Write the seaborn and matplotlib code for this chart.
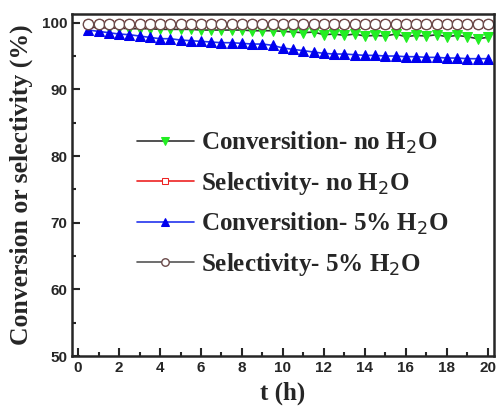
import numpy as np
import pandas as pd
import seaborn as sns
import matplotlib
matplotlib.use('Agg')
import matplotlib.pyplot as plt

# time on stream (h)
t_hours = [0.5, 1.0, 1.5, 2.0, 2.5, 3.0, 3.5, 4.0, 4.5, 5.0,
           5.5, 6.0, 6.5, 7.0, 7.5, 8.0, 8.5, 9.0, 9.5, 10.0,
           10.5, 11.0, 11.5, 12.0, 12.5, 13.0, 13.5, 14.0, 14.5, 15.0,
           15.5, 16.0, 16.5, 17.0, 17.5, 18.0, 18.5, 19.0, 19.5, 20.0]

conv_no_h2o = [99.3, 99.3, 99.2, 99.2, 99.1, 99.1, 99.1, 99.0, 99.0, 99.0,
               99.0, 98.9, 98.9, 98.9, 98.9, 98.9, 98.8, 98.8, 98.8, 98.7,
               98.6, 98.5, 98.6, 98.2, 98.3, 98.1, 98.3, 98.0, 98.1, 98.0,
               98.3, 97.9, 98.1, 98.0, 98.2, 97.9, 98.1, 97.9, 97.6, 97.8]

sel_no_h2o = [99.8] * 40

conv_5_h2o = [98.9, 98.7, 98.5, 98.3, 98.2, 98.0, 97.8, 97.6, 97.6, 97.4,
              97.3, 97.2, 97.1, 97.0, 97.0, 96.9, 96.8, 96.8, 96.6, 96.2,
              96.0, 95.8, 95.6, 95.4, 95.3, 95.3, 95.2, 95.1, 95.1, 95.0,
              95.0, 94.9, 94.9, 94.8, 94.8, 94.7, 94.7, 94.6, 94.6, 94.6]

sel_5_h2o = [99.8] * 40

df = pd.DataFrame({'t': t_hours, 'conv_no': conv_no_h2o, 'sel_no': sel_no_h2o,
                   'conv_5': conv_5_h2o, 'sel_5': sel_5_h2o})

sns.set_style('ticks')
plt.rcParams['font.family'] = ['Liberation Sans', 'DejaVu Sans']

fig = plt.figure(figsize=(4.96, 4.13), dpi=100)
ax = fig.add_axes([0.145, 0.138, 0.851, 0.828])

sns.lineplot(data=df, x='t', y='conv_no', ax=ax, color='#333333', lw=1.2,
             marker='v', ms=7.5, mfc='#22ee22', mec='#22ee22',
             label='Conversition- no H$_2$O')
sns.lineplot(data=df, x='t', y='sel_no', ax=ax, color='#ee2222', lw=1.2,
             marker='s', ms=6, mfc='white', mec='#ee2222',
             label='Selectivity- no H$_2$O')
sns.lineplot(data=df, x='t', y='conv_5', ax=ax, color='#2233ee', lw=1.2,
             marker='^', ms=7.5, mfc='#0000ee', mec='#0000ee',
             label='Conversition- 5% H$_2$O')
sns.lineplot(data=df, x='t', y='sel_5', ax=ax, color='#555555', lw=1.2,
             marker='o', ms=7.5, mfc='white', mec='#6a4a4a', mew=1.0,
             label='Selectivity- 5% H$_2$O')

ax.set_xlim(-0.3, 20.3)
ax.set_ylim(50, 101.3)
ax.set_xticks(np.arange(0, 21, 2))
ax.set_xticks(np.arange(1, 21, 2), minor=True)
ax.set_yticks(np.arange(50, 101, 10))
ax.set_yticks(np.arange(55, 100, 10), minor=True)
ax.tick_params(which='major', direction='in', length=6, width=1.5,
               labelsize=11)
ax.tick_params(which='minor', direction='in', length=3, width=1.5)
for lab in ax.get_xticklabels() + ax.get_yticklabels():
    lab.set_fontweight('bold')
for s in ax.spines.values():
    s.set_linewidth(1.8)
    s.set_visible(True)

serif = {'family': ['Liberation Serif', 'DejaVu Serif'], 'weight': 'bold'}
ax.set_xlabel('t (h)', fontdict=dict(serif, size=18), labelpad=5)
ax.set_ylabel('Conversion or selectivity (%)', fontdict=dict(serif, size=18.5),
              labelpad=6)

ax.legend(loc='upper left', bbox_to_anchor=(0.1, 0.728), frameon=False,
          prop={'family': ['Liberation Serif', 'DejaVu Serif'],
                'weight': 'bold', 'size': 18},
          handlelength=2.3, labelspacing=0.56, handletextpad=0.28,
          markerscale=0.72)

fig.savefig('out.png', dpi=100)
